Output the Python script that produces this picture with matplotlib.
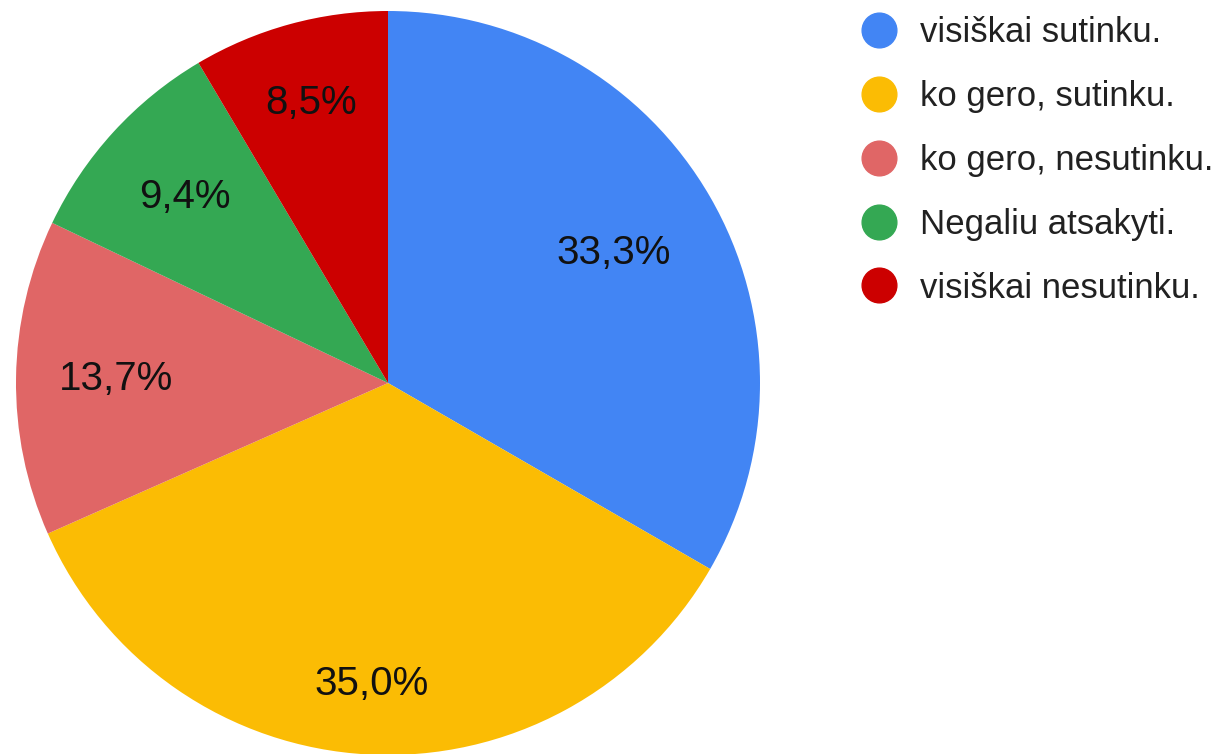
import matplotlib
matplotlib.use("Agg")
import matplotlib.pyplot as plt
from matplotlib.lines import Line2D
import numpy as np

labels = ["visiškai sutinku.", "ko gero, sutinku.", "ko gero, nesutinku.",
          "Negaliu atsakyti.", "visiškai nesutinku."]
values = [33.3, 35.0, 13.7, 9.4, 8.5]
colors = ["#4285F4", "#FBBC04", "#E06666", "#34A853", "#CC0000"]
label_dist = [0.70, 0.81, 0.73, 0.74, 0.78]

plt.rcParams['font.family'] = ['Liberation Sans', 'DejaVu Sans']

W, H = 1218, 754
fig = plt.figure(figsize=(W / 100, H / 100), dpi=100)
cx, cy, r = 388, 383, 372
ax = fig.add_axes([(cx - r) / W, (H - cy - r) / H, 2 * r / W, 2 * r / H])

wedges, texts, autotexts = ax.pie(
    values, colors=colors, startangle=90, counterclock=False, radius=1,
    autopct=lambda p: f"{p:.1f}".replace('.', ',') + '%', pctdistance=0.75,
    textprops=dict(fontsize=29, color='#111111'),
    wedgeprops=dict(linewidth=0))
ax.set_xlim(-1, 1)
ax.set_ylim(-1, 1)
ax.set_aspect('equal')
ax.axis('off')

for w, t, d in zip(wedges, autotexts, label_dist):
    ang = np.deg2rad((w.theta1 + w.theta2) / 2)
    t.set_position((d * np.cos(ang), d * np.sin(ang)))

handles = [Line2D([0], [0], marker='o', linestyle='none', markersize=25,
                  markerfacecolor=c, markeredgecolor=c) for c in colors]
fig.legend(handles, labels, loc='upper left',
           bbox_to_anchor=(862 / W, 1 - 16 / H), frameon=False,
           fontsize=25, labelspacing=0.89, handletextpad=0.66,
           handlelength=1.0, borderpad=0, borderaxespad=0,
           labelcolor='#212121')

fig.savefig("out.png", dpi=100)
